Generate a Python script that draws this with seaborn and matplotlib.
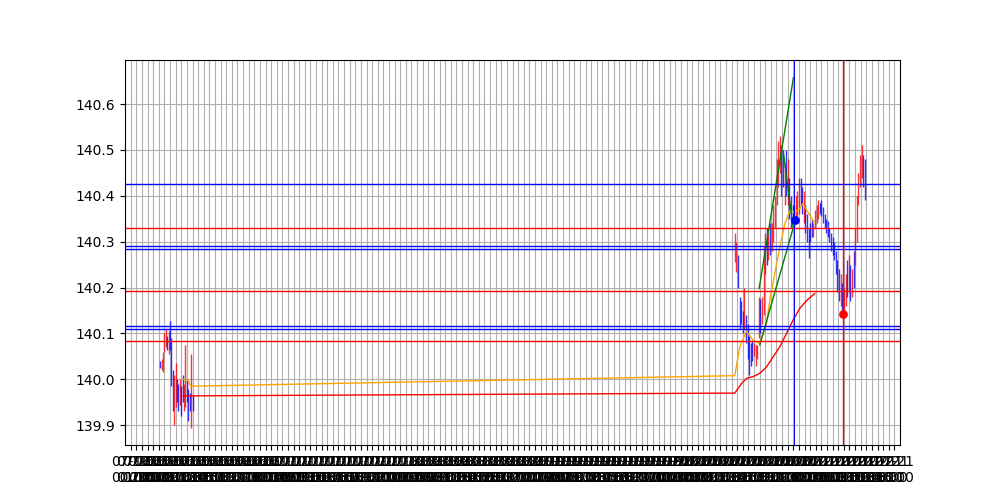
import numpy as np
import pandas as pd
import matplotlib
matplotlib.use('Agg')
import matplotlib.pyplot as plt
import seaborn as sns

# price bars, first session (15 min bars, x in hours from first tick)
s1_start = 5.25
s1_step = 0.25
lows1 = [140.025, 140.020, 140.015, 140.060, 140.070, 140.065, 140.055, 140.065, 139.985, 139.930,
         139.900, 139.940, 139.950, 139.930, 139.945, 139.920, 139.950, 139.930, 139.940, 139.950,
         139.910, 139.930, 139.895, 139.930]
highs1 = [140.040, 140.045, 140.060, 140.100, 140.110, 140.095, 140.105, 140.127, 140.090, 140.020,
          140.010, 140.035, 140.000, 139.990, 140.000, 139.985, 140.010, 139.990, 140.075, 140.000,
          139.980, 139.970, 140.055, 139.965]
colors1 = "brrrrbrbbbrrbbrbbrrbbbrb"

# second session
s2_start = 107.58
s2_step = 0.2858
lows2 = [140.255, 140.235, 140.200, 140.110, 140.120, 140.100, 140.110, 140.080, 140.045, 140.010,
         140.030, 140.040, 140.050, 140.030, 140.045, 140.090, 140.100, 140.120, 140.140, 140.230,
         140.250, 140.260, 140.270, 140.280, 140.300, 140.330, 140.380, 140.420, 140.450, 140.400,
         140.420, 140.380, 140.400, 140.380, 140.350, 140.330, 140.340, 140.330, 140.340, 140.350,
         140.360, 140.380, 140.360, 140.340, 140.320, 140.300, 140.265, 140.300, 140.310, 140.310,
         140.330, 140.340, 140.350, 140.360, 140.355, 140.340, 140.330, 140.320, 140.310, 140.300,
         140.280, 140.270, 140.260, 140.230, 140.190, 140.170, 140.160, 140.150, 140.135, 140.160,
         140.180, 140.190, 140.170, 140.180, 140.200, 140.250, 140.300, 140.380, 140.420, 140.440,
         140.420, 140.390]
highs2 = [140.320, 140.300, 140.270, 140.180, 140.170, 140.150, 140.200, 140.140, 140.120, 140.095,
          140.080, 140.085, 140.080, 140.075, 140.075, 140.180, 140.175, 140.180, 140.290, 140.320,
          140.330, 140.320, 140.340, 140.340, 140.380, 140.400, 140.480, 140.520, 140.530, 140.510,
          140.500, 140.470, 140.500, 140.480, 140.440, 140.400, 140.380, 140.380, 140.400, 140.410,
          140.440, 140.440, 140.420, 140.410, 140.380, 140.360, 140.330, 140.340, 140.350, 140.340,
          140.370, 140.380, 140.390, 140.385, 140.390, 140.375, 140.360, 140.350, 140.345, 140.330,
          140.320, 140.310, 140.300, 140.280, 140.260, 140.240, 140.230, 140.210, 140.200, 140.230,
          140.260, 140.270, 140.250, 140.240, 140.280, 140.330, 140.400, 140.450, 140.490, 140.510,
          140.490, 140.480]
colors2 = ("rrbbbbrbbb" "bbrrrrbrrr" "brbrrrrrrb" "brbrbbbbrr" "rbbrbbbbbr"
           "rrrbbbbbbb" "bbbbbbrbrr" "brbrbrrrrr" "bb")

# moving averages
fast_x = [9.36, 10.25, 10.68, 107.58, 108.47, 109.67, 110.84, 112.03, 113.23, 113.82, 114.71,
          115.60, 116.49, 117.38, 118.27, 119.16, 119.69, 120.63, 121.52, 121.83]
fast_y = [140.000, 139.997, 139.985, 140.008, 140.071, 140.105, 140.085, 140.078, 140.122, 140.172,
          140.231, 140.288, 140.339, 140.368, 140.364, 140.372, 140.383, 140.364, 140.346, 140.342]
slow_x = [9.31, 11.09, 107.58, 108.78, 109.67, 110.84, 112.03, 113.23, 114.40, 115.60, 116.79,
          117.96, 119.16, 120.40, 121.83]
slow_y = [139.964, 139.964, 139.970, 139.991, 140.002, 140.006, 140.013, 140.027, 140.049, 140.071,
          140.100, 140.129, 140.155, 140.172, 140.187]

# trend lines
trend_x = [[111.91, 118.03], [112.03, 117.96], [116.19, 117.96]]
trend_y = [[140.198, 140.658], [140.075, 140.329], [140.498, 140.332]]

# levels
blue_levels = [140.425, 140.290, 140.284, 140.117, 140.110]
red_levels = [140.329, 140.192, 140.083]
blue_mark = (118.09, 118.32, 140.348)   # vline x, dot x, dot y
red_mark = (126.80, 126.87, 140.143)

tick_times = pd.date_range('2024-07-16 00:00', periods=137, freq='h')
tick_labels = [t.strftime('%m-%d\n%H:%M') for t in tick_times]

fig, ax = plt.subplots(figsize=(10, 5), dpi=100)

cmap = {'r': 'red', 'b': 'blue'}
for start, step, lo, hi, cols in [(s1_start, s1_step, lows1, highs1, colors1),
                                  (s2_start, s2_step, lows2, highs2, colors2)]:
    xs = start + step * np.arange(len(lo))
    ax.vlines(xs, lo, hi, colors=[cmap[c] for c in cols], lw=1.0, alpha=0.8)

sns.lineplot(x=fast_x, y=fast_y, color='orange', lw=1, ax=ax)
sns.lineplot(x=slow_x, y=slow_y, color='red', lw=1, ax=ax)
for tx, ty in zip(trend_x, trend_y):
    sns.lineplot(x=tx, y=ty, color='green', lw=1, ax=ax, sort=False)

for lv in blue_levels:
    ax.axhline(lv, color='blue', lw=1)
for lv in red_levels:
    ax.axhline(lv, color='red', lw=1)

ax.axvline(blue_mark[0], color='blue', lw=0.7, zorder=3)
ax.axvline(red_mark[0], color='red', lw=1.0, zorder=3)
sns.scatterplot(x=[blue_mark[1]], y=[blue_mark[2]], color='blue', s=40, linewidth=0, ax=ax, zorder=5)
sns.scatterplot(x=[red_mark[1]], y=[red_mark[2]], color='red', s=40, linewidth=0, ax=ax, zorder=5)

ax.set_xticks(np.arange(len(tick_labels)))
ax.set_xticklabels(tick_labels)
ax.grid(True)
ax.set_axisbelow(True)

plt.savefig('out.png')
